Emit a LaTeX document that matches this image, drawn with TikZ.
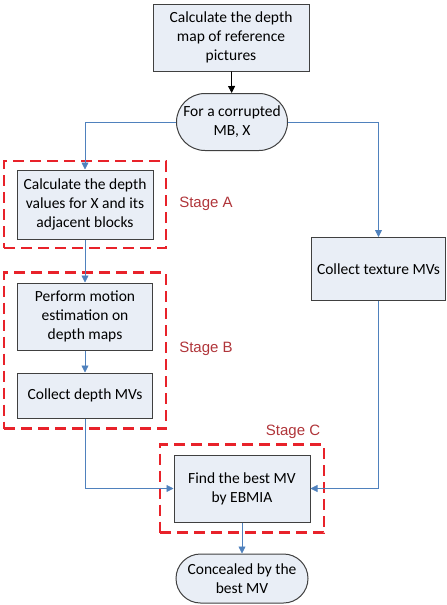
\documentclass[tikz,border=0pt]{standalone}
\usepackage{fontspec}
\setmainfont{Carlito}
\newfontfamily\stagefont{Liberation Sans}
\usetikzlibrary{shapes.misc, arrows.meta, fit}

\definecolor{boxfill}{HTML}{E9EEF6}
\definecolor{boxline}{HTML}{404040}
\definecolor{flowblue}{HTML}{4F81BD}
\definecolor{stagered}{HTML}{E8222A}
\definecolor{stagetext}{HTML}{B0353A}

\begin{document}
\begin{tikzpicture}
    [
        x=1pt, y=-1pt,
        font=\fontsize{15.5}{19}\selectfont,
        block/.style={draw=boxline, fill=boxfill, line width=1pt, align=center, inner sep=2pt},
        terminal/.style={block, rounded rectangle},
        flow/.style={draw=flowblue, line width=0.8pt, -{Triangle[length=7pt,width=7pt]}},
        stagebox/.style={draw=stagered, line width=2.2pt, dash pattern=on 11pt off 6pt},
        stagelabel/.style={text=stagetext, font=\stagefont\fontsize{15}{18}\selectfont},
    ]
    \useasboundingbox (0,0) rectangle (447,605);

    \node[block, minimum width=156pt, minimum height=67pt] (depthmap) at (231,37.5) {Calculate the depth\\map of reference\\pictures};
    \node[terminal, minimum width=115pt, minimum height=57pt] (corrupt) at (232,122) {For a corrupted\\MB, X};
    \node[block, minimum width=136pt, minimum height=69pt] (calcA) at (85,204.5) {Calculate the depth\\values for X and its\\adjacent blocks};
    \node[block, minimum width=135pt, minimum height=67pt] (motion) at (85,316.5) {Perform motion\\estimation on\\depth maps};
    \node[block, minimum width=135pt, minimum height=45pt] (depthmv) at (85,395.5) {Collect depth MVs};
    \node[block, minimum width=134pt, minimum height=63pt] (texture) at (378.5,269) {Collect texture MVs};
    \node[block, minimum width=136pt, minimum height=67pt] (findmv) at (242,488.5) {Find the best MV\\by EBMIA};
    \node[terminal, minimum width=136pt, minimum height=49pt] (conceal) at (242,578.5) {Concealed by the\\best MV};

    % stage frames
    \node[stagebox, fit=(calcA), inner xsep=12.5pt, inner ysep=8.5pt] (stageA) {};
    \node[stagebox, fit=(motion)(depthmv), inner xsep=13pt, inner ysep=10pt] (stageB) {};
    \node[stagebox, fit=(findmv), inner xsep=13.5pt, inner ysep=10pt] (stageC) {};
    \node[stagelabel] (labelA) at (206,204) {Stage A};
    \node[stagelabel] (labelB) at (206,349) {Stage B};
    \node[stagelabel] (labelC) at (293,432) {Stage C};

    % connectors
    \draw[flow, draw=black] (depthmap) -- (corrupt);
    \draw[flow] (corrupt.west) -| (calcA.north);
    \draw[flow] (corrupt.east) -| (texture.north);
    \draw[flow] (calcA) -- (motion);
    \draw[flow] (motion) -- (depthmv);
    \draw[flow] (depthmv.south) |- (findmv.west);
    \draw[flow] (texture.south) |- (findmv.east);
    \draw[flow] (findmv) -- (conceal);
\end{tikzpicture}
\end{document}
